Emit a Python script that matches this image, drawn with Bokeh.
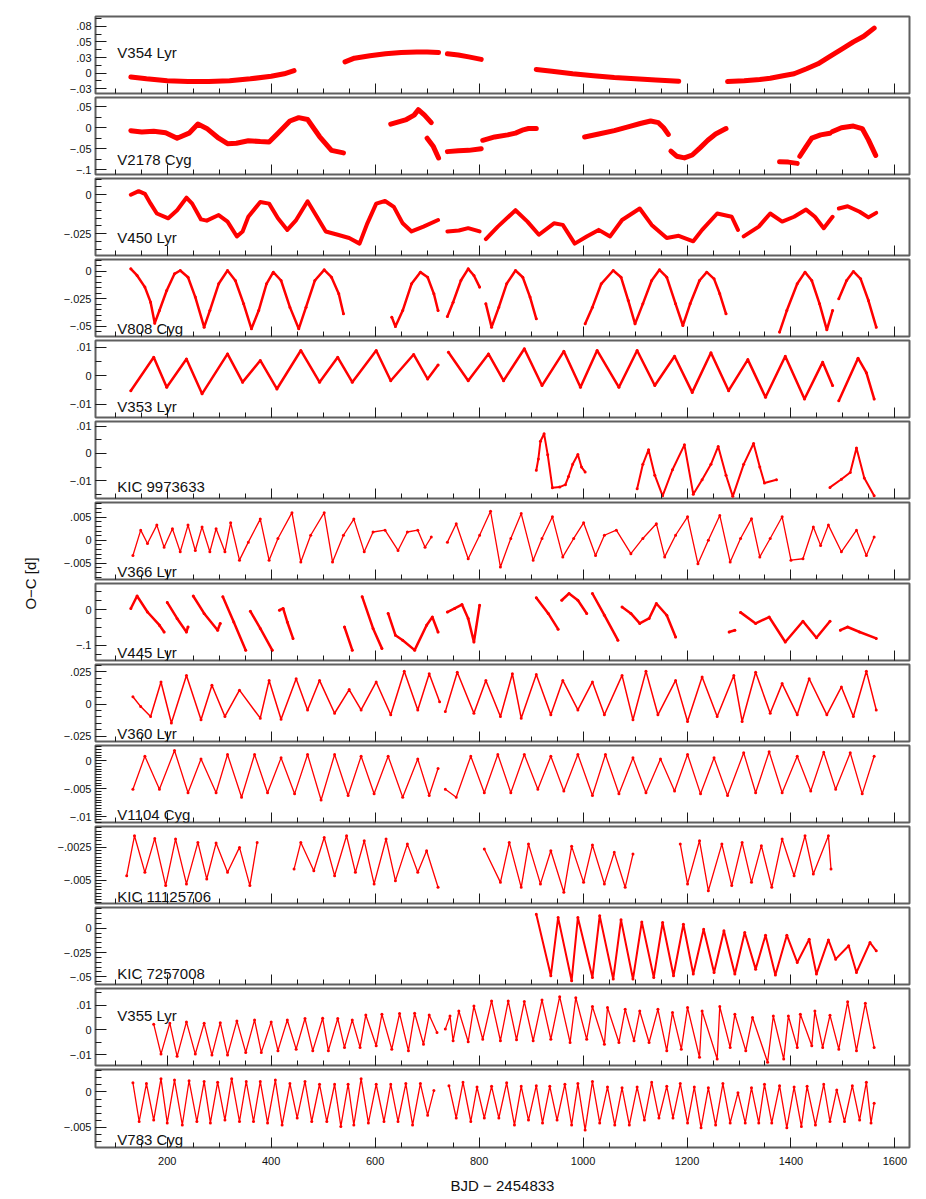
import math
from bokeh.plotting import figure
from bokeh.models import Range1d, FixedTicker, Label
from bokeh.layouts import row, column
from bokeh.embed import file_html
from bokeh.resources import INLINE

FONT = "Liberation Sans"
RED = "#ff0000"
MINUS = "\u2212"

# ---------------- axis ticks ----------------
x_major = [200, 400, 600, 800, 1000, 1200, 1400, 1600]
x_minor = list(range(100, 1650, 50))
x_title = "BJD " + MINUS + " 2454833"
y_title = "O" + MINUS + "C [d]"

# ---------------- data (BJD-2454833, O-C in days) ----------------
V354_t = [[130, 160, 200, 240, 280, 320, 360, 400, 425, 444],
          [542, 560, 590, 620, 650, 680, 700, 722],
          [739, 760, 780, 804],
          [910, 940, 980, 1020, 1060, 1100, 1140, 1184],
          [1278, 1310, 1340, 1360, 1385, 1406, 1430, 1452, 1475, 1497, 1520, 1540, 1560]]
V354_oc = [[-0.006, -0.009, -0.012, -0.0135, -0.0135, -0.012, -0.009, -0.005, -0.001, 0.004],
           [0.018, 0.024, 0.028, 0.031, 0.033, 0.034, 0.034, 0.033],
           [0.031, 0.029, 0.026, 0.022],
           [0.006, 0.003, -0.001, -0.004, -0.007, -0.009, -0.011, -0.013],
           [-0.0135, -0.012, -0.010, -0.008, -0.004, -0.001, 0.007, 0.015, 0.027, 0.038, 0.050, 0.059, 0.072]]

V2178_t = [[130, 151, 174, 197, 219, 242, 259, 276, 299, 316, 333, 356, 379, 396, 413, 436, 453, 470, 493, 516, 539],
           [630, 645, 660, 675, 683, 695, 708],
           [700, 712, 722],
           [739, 760, 780, 804],
           [807, 830, 855, 870, 885, 895, 910],
           [1003, 1030, 1060, 1090, 1110, 1130, 1145, 1155, 1164],
           [1169, 1180, 1195, 1210, 1225, 1240, 1255, 1275],
           [1378, 1395, 1412],
           [1417, 1429, 1440, 1457, 1475],
           [1480, 1497, 1520, 1537, 1549, 1563]]
V2178_oc = [[-0.007, -0.010, -0.0086, -0.012, -0.025, -0.013, 0.0086, -0.0016, -0.025, -0.038, -0.037, -0.031,
             -0.033, -0.034, -0.013, 0.016, 0.024, 0.0195, -0.021, -0.054, -0.060],
            [0.0086, 0.014, 0.0195, 0.030, 0.043, 0.030, 0.012],
            [-0.025, -0.045, -0.072],
            [-0.057, -0.055, -0.054, -0.050],
            [-0.030, -0.022, -0.017, -0.013, -0.005, -0.002, -0.002],
            [-0.022, -0.015, -0.007, 0.003, 0.010, 0.016, 0.012, 0.0, -0.016],
            [-0.056, -0.068, -0.072, -0.065, -0.048, -0.030, -0.015, -0.002],
            [-0.081, -0.082, -0.085],
            [-0.068, -0.045, -0.025, -0.017, -0.013],
            [-0.009, 0.0, 0.004, -0.002, -0.029, -0.066]]

V450_t = [[130, 145, 157, 168, 180, 202, 219, 237, 248, 265, 276, 299, 316, 334, 345, 356, 379, 396, 413, 431,
           448, 470, 488, 505, 528, 550, 570, 585, 602, 619, 636, 653, 670, 693, 721],
          [739, 761, 779, 801],
          [813, 836, 870, 893, 915, 944, 961, 984, 1007, 1030, 1052, 1075, 1109, 1132, 1161, 1184, 1212, 1229,
           1258, 1286, 1298],
          [1309, 1338, 1360, 1383, 1406, 1429, 1446, 1463, 1480],
          [1492, 1509, 1532, 1549, 1564]]
V450_oc = [[0.0, 0.0023, 0.0006, -0.0057, -0.012, -0.0151, -0.0099, -0.0019, -0.0057, -0.0158, -0.0166, -0.013,
            -0.0172, -0.0267, -0.0235, -0.0141, -0.0046, -0.0057, -0.0151, -0.0225, -0.0162, -0.0042, -0.0141,
            -0.0235, -0.0256, -0.0277, -0.0313, -0.0183, -0.0057, -0.004, -0.0078, -0.0183, -0.0235, -0.0204, -0.0162],
           [-0.0235, -0.0229, -0.0214, -0.0235],
           [-0.0284, -0.0204, -0.0099, -0.0172, -0.0256, -0.0183, -0.0193, -0.0313, -0.0267, -0.0225, -0.0267,
            -0.0162, -0.0088, -0.0193, -0.0277, -0.0263, -0.0298, -0.0225, -0.012, -0.0141, -0.0225],
           [-0.0267, -0.0204, -0.012, -0.0172, -0.0141, -0.0095, -0.0141, -0.0214, -0.0141],
           [-0.0088, -0.0074, -0.0109, -0.0145, -0.0116]]

V808_t = [[130, 142, 157, 168, 176, 185, 199, 214, 225, 240, 254, 271, 282, 299, 316, 331, 347, 362, 376, 391,
           404, 419, 436, 453, 467, 484, 502, 516, 530, 539],
          [632, 639, 653, 670, 687, 701, 713, 721],
          [739, 750, 765, 779, 790, 801],
          [813, 824, 838, 853, 870, 884, 898, 910],
          [1004, 1018, 1035, 1058, 1073, 1087, 1100, 1115, 1132, 1147, 1161, 1178, 1192, 1206, 1224, 1238, 1252,
           1263, 1275],
          [1378, 1392, 1412, 1427, 1440, 1455, 1469, 1480],
          [1492, 1507, 1520, 1534, 1549, 1564]]
V808_oc = [[0.0024, -0.0036, -0.0142, -0.0279, -0.047, -0.0355, -0.0173, -0.0021, 0.0009, -0.0052, -0.0233, -0.0506,
            -0.0355, -0.0112, 0.0009, -0.0082, -0.0294, -0.0521, -0.0355, -0.0112, -0.0006, -0.0082, -0.0324,
            -0.0521, -0.0324, -0.0082, 0.0015, -0.0052, -0.0203, -0.0385],
           [-0.0415, -0.050, -0.0355, -0.0112, -0.0006, -0.0052, -0.0203, -0.0355],
           [-0.0409, -0.0279, -0.0082, 0.0024, -0.0036, -0.0142],
           [-0.0294, -0.0506, -0.0324, -0.0112, 0.0009, -0.0052, -0.0233, -0.043],
           [-0.0476, -0.0324, -0.0112, 0.0009, -0.0052, -0.0264, -0.0476, -0.0294, -0.0082, 0.0015, -0.0052, -0.0294,
            -0.0491, -0.0294, -0.0082, -0.0006, -0.0067, -0.0203, -0.0385],
           [-0.0551, -0.0355, -0.0112, -0.0006, -0.0082, -0.0294, -0.053, -0.0355],
           [-0.0248, -0.0082, 0.0, -0.0067, -0.0264, -0.0506]]

V353_t = [[130, 174, 199, 237, 267, 316, 345, 379, 411, 457, 493, 528, 556, 602, 630, 674, 701, 721],
          [741, 779, 818, 847, 887, 921, 963, 995, 1027, 1069, 1104, 1138, 1176, 1210, 1246, 1280, 1317, 1351,
           1389, 1426, 1461, 1480],
          [1492, 1529, 1545, 1560]]
V353_oc = [[-0.0053, 0.0064, -0.0041, 0.0058, -0.0064, 0.0076, -0.0023, 0.0053, -0.0047, 0.0088, -0.0023, 0.0064,
            -0.0023, 0.0088, -0.0018, 0.0074, -0.0012, 0.0037],
           [0.0082, -0.0018, 0.0076, -0.0018, 0.0094, -0.0035, 0.0085, -0.0041, 0.0088, -0.0041, 0.0088, -0.0035,
            0.0068, -0.0059, 0.008, -0.0053, 0.0056, -0.0076, 0.0068, -0.0082, 0.0047, -0.0035],
           [-0.0088, 0.0061, 0.001, -0.0082]]

KIC9973633_t = [[910, 914, 918, 925, 932, 941, 955, 966, 972, 980, 990, 997, 1004],
                [1104, 1115, 1126, 1138, 1153, 1172, 1195, 1212, 1229, 1246, 1260, 1275, 1288, 1309, 1328, 1340,
                 1349, 1372],
                [1475, 1497, 1514, 1526, 1541, 1560]]
KIC9973633_oc = [[-0.0062, -0.002, 0.0045, 0.0073, -0.0005, -0.0126, -0.0124, -0.0115, -0.0085, -0.004, -0.0004,
                  -0.005, -0.0068],
                 [-0.013, -0.004, 0.0014, -0.008, -0.0156, -0.006, 0.0032, -0.015, -0.0097, -0.004, 0.0026, -0.008,
                  -0.0158, -0.004, 0.0037, -0.005, -0.0109, -0.0097],
                 [-0.0125, -0.0095, -0.007, 0.002, -0.009, -0.0156]]

V366_t = [[134, 149, 162, 180, 194, 210, 225, 240, 254, 267, 282, 294, 311, 322, 339, 356, 379, 396, 413, 440,
           457, 476, 502, 518, 539, 559, 579, 596, 619, 644, 662, 682, 696, 708],
          [739, 756, 779, 801, 822, 841, 861, 881, 904, 921, 941, 961, 982, 1001, 1024, 1041, 1064, 1092, 1115,
           1141, 1157, 1178, 1201, 1221, 1241, 1263, 1283, 1303, 1324, 1340, 1360, 1383, 1400, 1423, 1443, 1457,
           1472, 1497, 1526, 1545, 1560]]
V366_oc = [[-0.0033, 0.0022, -0.0007, 0.0033, -0.0015, 0.0025, -0.0025, 0.0033, -0.0022, 0.0029, -0.0025, 0.0025,
            -0.0025, 0.0038, -0.0043, -0.0004, 0.0046, -0.0043, 0.0004, 0.006, -0.0047, 0.0011, 0.006, -0.0047,
            0.0011, 0.0046, -0.0025, 0.0018, 0.0022, -0.0022, 0.0018, 0.0022, -0.0015, 0.0007],
           [-0.0004, 0.0036, -0.004, 0.0011, 0.0063, -0.0058, 0.0004, 0.0058, -0.0043, 0.0004, 0.0051, -0.0036,
            0.0004, 0.0038, -0.0033, 0.0011, 0.0022, -0.0029, 0.0004, 0.0036, -0.0036, 0.0011, 0.0051, -0.0051,
            0.0, 0.0054, -0.0047, 0.0004, 0.0047, -0.0036, 0.0004, 0.0051, -0.0043, -0.004, 0.0029, -0.0011,
            0.0033, -0.0025, 0.0022, -0.0033, 0.0007]]

V445_t = [[130, 142, 162, 185, 194], [200, 219, 237, 240], [250, 271, 297, 302], [307, 328, 351],
          [360, 379, 402], [416, 423, 431, 442], [541, 556], [575, 596, 613],
          [625, 639, 653, 676, 699, 710, 721], [739, 753, 767, 779, 790, 801],
          [910, 933, 952], [959, 973, 990, 1007], [1018, 1041, 1067],
          [1075, 1092, 1109, 1127, 1141, 1161, 1178], [1281, 1292],
          [1303, 1332, 1358, 1389, 1423, 1449, 1475], [1495, 1509, 1532, 1564]]
V445_oc = [[0.003, 0.038, -0.007, -0.044, -0.063], [0.020, -0.025, -0.063, -0.049], [0.038, -0.011, -0.058, -0.039],
           [0.036, -0.035, -0.114], [-0.005, -0.053, -0.114], [-0.002, 0.003, -0.035, -0.081], [-0.049, -0.114],
           [0.036, -0.053, -0.109], [-0.011, -0.072, -0.086, -0.114, -0.044, -0.021, -0.063],
           [-0.007, 0.003, 0.014, -0.025, -0.091, 0.012], [0.033, -0.011, -0.055], [0.026, 0.045, 0.026, -0.011],
           [0.045, -0.016, -0.086], [0.007, -0.011, -0.039, -0.025, 0.017, -0.016, -0.077], [-0.063, -0.058],
           [-0.008, -0.039, -0.021, -0.091, -0.033, -0.079, -0.033], [-0.058, -0.049, -0.063, -0.081]]

V360_t = [[134, 149, 168, 188, 208, 237, 265, 286, 311, 339, 379, 396, 419, 448, 470, 493, 522, 550, 573, 602,
           630, 656, 682, 704, 724],
          [735, 758, 790, 813, 841, 864, 881, 910, 938, 961, 990, 1018, 1041, 1075, 1096, 1121, 1144, 1178, 1201,
           1229, 1258, 1290, 1306, 1332, 1360, 1383, 1412, 1435, 1469, 1497, 1520, 1545, 1564]]
V360_oc = [[0.0056, -0.002, -0.0097, 0.0172, -0.0148, 0.0223, -0.0123, 0.0146, -0.0097, 0.0108, -0.011, 0.0184,
            -0.0118, 0.0197, -0.0046, 0.0184, -0.0072, 0.0113, -0.0046, 0.0172, -0.0084, 0.0256, -0.0046, 0.0236,
            0.0018],
           [-0.0059, 0.0248, -0.0072, 0.0184, -0.0097, 0.0236, -0.011, 0.023, -0.0084, 0.0184, -0.0046, 0.0172,
            -0.0084, 0.0223, -0.0123, 0.0256, -0.0084, 0.0184, -0.0136, 0.0210, -0.0097, 0.0223, -0.0136, 0.0248,
            -0.0072, 0.0159, -0.0084, 0.0197, -0.0084, 0.0133, -0.0097, 0.0256, -0.0046]]

V1104_t = [[134, 157, 185, 214, 240, 265, 294, 316, 343, 368, 393, 419, 445, 470, 496, 522, 548, 573, 598, 625,
            653, 682, 704, 721],
           [735, 756, 784, 810, 836, 861, 887, 913, 938, 963, 990, 1018, 1043, 1069, 1096, 1121, 1149, 1176, 1201,
            1226, 1252, 1278, 1309, 1332, 1358, 1383, 1412, 1438, 1463, 1486, 1514, 1537, 1560]]
V1104_oc = [[-0.0051, 0.0008, -0.0051, 0.0018, -0.0057, 0.0003, -0.0057, 0.0011, -0.0065, 0.0011, -0.0057, 0.0005,
             -0.0059, 0.0011, -0.007, 0.0011, -0.0062, 0.0008, -0.0059, 0.0008, -0.0065, 0.0003, -0.0062, -0.0014],
            [-0.0051, -0.0065, 0.0008, -0.0057, 0.0011, -0.0057, 0.0011, -0.0051, 0.0008, -0.0054, 0.0011, -0.0062,
             0.0011, -0.0059, 0.0005, -0.0057, 0.0003, -0.0054, 0.0011, -0.0059, 0.0005, -0.0062, 0.0014, -0.0057,
             0.0016, -0.0057, 0.0008, -0.0054, 0.0015, -0.0051, 0.0014, -0.0059, 0.0008]]

KIC11125706_t = [[122, 137, 157, 176, 197, 216, 237, 259, 276, 294, 316, 339, 359, 373],
                 [444, 457, 482, 502, 522, 545, 562, 579, 598, 621, 639, 662, 682, 699, 721],
                 [810, 841, 858, 881, 895, 918, 938, 963, 978, 1001, 1018, 1041, 1060, 1081, 1096],
                 [1187, 1201, 1224, 1241, 1267, 1286, 1306, 1324, 1343, 1363, 1383, 1406, 1427, 1443, 1472, 1477]]
KIC11125706_oc = [[-0.00467, -0.00161, -0.00441, -0.00181, -0.00543, -0.00186, -0.0053, -0.00212, -0.00492,
                   -0.00217, -0.00441, -0.0025, -0.00543, -0.00212],
                  [-0.00416, -0.00212, -0.00429, -0.00174, -0.00467, -0.00161, -0.00441, -0.00199, -0.0053,
                   -0.00186, -0.00505, -0.00225, -0.00441, -0.00276, -0.00556],
                  [-0.00263, -0.00518, -0.00212, -0.00556, -0.00225, -0.0053, -0.00276, -0.00594, -0.00242,
                   -0.00518, -0.00232, -0.0053, -0.00288, -0.00556, -0.00301],
                  [-0.00225, -0.0053, -0.00199, -0.00582, -0.00225, -0.00543, -0.00212, -0.00518, -0.00237,
                   -0.00556, -0.00186, -0.00467, -0.00161, -0.00454, -0.00161, -0.00416]]

KIC7257008_t = [[910, 938, 952, 978, 990, 1018, 1032, 1058, 1073, 1096, 1113, 1136, 1153, 1174, 1193, 1212, 1232,
                 1252, 1271, 1292, 1311, 1332, 1351, 1370, 1392, 1412, 1435, 1449, 1472, 1486, 1511, 1526, 1552,
                 1564]]
KIC7257008_oc = [[0.0144, -0.0489, 0.0109, -0.054, 0.0109, -0.0506, 0.0127, -0.0523, 0.0086, -0.0523, 0.0065,
                  -0.0506, 0.0058, -0.0489, 0.0041, -0.0472, -0.001, -0.0455, -0.0027, -0.0472, -0.0044, -0.0421,
                  -0.0072, -0.0482, -0.0072, -0.0352, -0.0113, -0.0472, -0.012, -0.0318, -0.0181, -0.0455,
                  -0.0147, -0.0233]]

V355_t = [[174, 188, 205, 219, 237, 254, 271, 286, 302, 316, 334, 351, 368, 381, 400, 413, 431, 448, 465, 480,
           499, 510, 528, 541, 556, 571, 582, 602, 613, 632, 647, 664, 676, 693, 704, 719],
          [735, 744, 750, 761, 779, 790, 807, 824, 841, 856, 872, 887, 904, 921, 938, 955, 975, 986, 1007, 1018,
           1041, 1047, 1069, 1081, 1098, 1109, 1127, 1144, 1161, 1172, 1189, 1201, 1224, 1229, 1258, 1263, 1283,
           1292, 1313, 1326, 1355, 1366, 1386, 1395, 1412, 1418, 1440, 1446, 1461, 1475, 1492, 1509, 1526, 1543,
           1560]]
V355_oc = [[0.0023, -0.0098, 0.0027, -0.0107, 0.0032, -0.0098, 0.0027, -0.0102, 0.0029, -0.0102, 0.0036, -0.0091,
            0.004, -0.0091, 0.0032, -0.0084, 0.004, -0.0078, 0.0046, -0.0084, 0.0047, -0.0084, 0.0046, -0.0071,
            0.004, -0.0071, 0.006, -0.0064, 0.0063, -0.0078, 0.0066, -0.0084, 0.0067, -0.0058, 0.006, -0.0011],
           [0.0003, 0.0056, -0.0044, 0.0076, -0.0048, 0.0096, -0.0038, 0.0117, -0.0044, 0.0117, -0.004, 0.0114,
            -0.0044, 0.0121, -0.0038, 0.0134, -0.0051, 0.013, -0.0038, 0.0094, -0.0058, 0.009, -0.0051, 0.0083,
            -0.0044, 0.0076, -0.0051, 0.0083, -0.0084, 0.007, -0.0078, 0.009, -0.0111, 0.0076, -0.0118, 0.0094,
            -0.0071, 0.0063, -0.0084, 0.005, -0.0131, 0.0056, -0.0118, 0.0056, -0.0071, 0.0063, -0.0064, 0.0076,
            -0.0071, 0.0059, -0.0078, 0.0113, -0.0084, 0.0107, -0.0071]]

V783_t = [[134, 146, 160, 174, 188, 200, 214, 229, 242, 257, 271, 283, 297, 311, 324, 339, 352, 366, 379, 393,
           408, 421, 436, 450, 465, 478, 493, 507, 522, 534, 548, 559, 573, 587, 602, 617, 630, 644, 659, 672,
           687, 701, 713],
          [742, 756, 769, 784, 796, 810, 824, 838, 853, 868, 881, 895, 910, 922, 936, 950, 965, 978, 990, 1004,
           1018, 1032, 1047, 1061, 1075, 1089, 1104, 1118, 1132, 1146, 1161, 1173, 1187, 1201, 1214, 1227, 1241,
           1255, 1269, 1283, 1298, 1312, 1324, 1338, 1349, 1363, 1378, 1392, 1406, 1420, 1431, 1447, 1463, 1475,
           1488, 1503, 1518, 1532, 1545, 1554, 1560]]
V783_oc = [[0.0013, -0.0042, 0.0012, -0.004, 0.0019, -0.0044, 0.0017, -0.0047, 0.0016, -0.0042, 0.0015, -0.0044,
            0.0014, -0.004, 0.0019, -0.0042, 0.0015, -0.0042, 0.0015, -0.0044, 0.0017, -0.0047, 0.0012, -0.0037,
            0.0015, -0.0042, 0.0011, -0.0042, 0.0011, -0.0049, 0.0011, -0.0047, 0.0019, -0.0044, 0.0011, -0.0042,
            0.0011, -0.0042, 0.0012, -0.0047, 0.0012, -0.0033, 0.0002],
           [0.0009, -0.0037, 0.0014, -0.0042, 0.0007, -0.0037, 0.0008, -0.0037, 0.0013, -0.0047, 0.0008, -0.004,
            0.0009, -0.0044, 0.0008, -0.004, 0.0011, -0.0047, 0.0012, -0.0054, 0.0015, -0.0044, 0.0007, -0.0047,
            0.0006, -0.0047, 0.0007, -0.004, 0.0014, -0.0037, 0.0008, -0.0037, 0.0012, -0.0044, 0.0007, -0.0051,
            0.0006, -0.0047, 0.0012, -0.0044, -0.0001, -0.0044, 0.0006, -0.0044, 0.0011, -0.0044, 0.0009, -0.0051,
            0.0007, -0.0049, 0.0008, -0.0047, 0.0011, -0.0042, 0.0003, -0.0042, 0.0009, -0.004, 0.0014, -0.0044,
            -0.0016]]

# ---------------- panel configuration ----------------
M = MINUS
panels = [
    dict(name="V354 Lyr", t=V354_t, oc=V354_oc, yr=(-0.0325, 0.0906),
         ticks=[-0.025, 0, 0.025, 0.05, 0.075], labels=[M + ".03", "0", ".03", ".05", ".08"], minor=0.0125,
         lab=("top", 36), lw=5, ds=0),
    dict(name="V2178 Cyg", t=V2178_t, oc=V2178_oc, yr=(-0.1115, 0.072),
         ticks=[-0.1, -0.05, 0, 0.05], labels=[M + ".1", M + ".05", "0", ".05"], minor=0.025,
         lab=("bottom", 15), lw=5, ds=0),
    dict(name="V450 Lyr", t=V450_t, oc=V450_oc, yr=(-0.0389, 0.0104),
         ticks=[-0.025, 0], labels=[M + ".025", "0"], minor=0.005, lab=("bottom", 18), lw=4, ds=0),
    dict(name="V808 Cyg", t=V808_t, oc=V808_oc, yr=(-0.0591, 0.0109),
         ticks=[-0.05, -0.025, 0], labels=[M + ".05", M + ".025", "0"], minor=0.005, lab=("bottom", 8), lw=2.5, ds=3),
    dict(name="V353 Lyr", t=V353_t, oc=V353_oc, yr=(-0.0147, 0.0123),
         ticks=[-0.01, 0, 0.01], labels=[M + ".01", "0", ".01"], minor=0.005, lab=("bottom", 11), lw=2.5, ds=3),
    dict(name="KIC 9973633", t=KIC9973633_t, oc=KIC9973633_oc, yr=(-0.0166, 0.0118),
         ticks=[-0.01, 0, 0.01], labels=[M + ".01", "0", ".01"], minor=0.005, lab=("bottom", 12), lw=2, ds=3),
    dict(name="V366 Lyr", t=V366_t, oc=V366_oc, yr=(-0.0085, 0.0082),
         ticks=[-0.005, 0, 0.005], labels=[M + ".005", "0", ".005"], minor=0.001, lab=("bottom", 8), lw=1.3, ds=3),
    dict(name="V445 Lyr", t=V445_t, oc=V445_oc, yr=(-0.143, 0.073),
         ticks=[-0.1, 0], labels=[M + ".1", "0"], minor=0.025, lab=("bottom", 8), lw=2.5, ds=3),
    dict(name="V360 Lyr", t=V360_t, oc=V360_oc, yr=(-0.0292, 0.0308),
         ticks=[-0.025, 0, 0.025], labels=[M + ".025", "0", ".025"], minor=0.005, lab=("bottom", 8), lw=1.5, ds=3),
    dict(name="V1104 Cyg", t=V1104_t, oc=V1104_oc, yr=(-0.0110, 0.0027),
         ticks=[-0.01, -0.005, 0], labels=[M + ".01", M + ".005", "0"], minor=0.0005, lab=("bottom", 8), lw=1.3, ds=3),
    dict(name="KIC 11125706", t=KIC11125706_t, oc=KIC11125706_oc, yr=(-0.0068, -0.0009),
         ticks=[-0.005, -0.0025], labels=[M + ".005", M + ".0025"], minor=0.00025, lab=("bottom", 7), lw=1.3, ds=3),
    dict(name="KIC 7257008", t=KIC7257008_t, oc=KIC7257008_oc, yr=(-0.0579, 0.0213),
         ticks=[-0.05, -0.025, 0], labels=[M + ".05", M + ".025", "0"], minor=0.005, lab=("bottom", 11), lw=2, ds=3),
    dict(name="V355 Lyr", t=V355_t, oc=V355_oc, yr=(-0.0144, 0.0167),
         ticks=[-0.01, 0, 0.01], labels=[M + ".01", "0", ".01"], minor=0.005, lab=("top", 27), lw=1.3, ds=3),
    dict(name="V783 Cyg", t=V783_t, oc=V783_oc, yr=(-0.0079, 0.0032),
         ticks=[-0.005, 0], labels=[M + ".005", "0"], minor=0.001, lab=("bottom", 8), lw=1.3, ds=3),
]

X0, X1 = 62, 1628
LEFT_W = 44
BORDER_L = 51
BORDER_R = 9
FIG_W = BORDER_L + 814 + BORDER_R
TOTAL_H = 1197
TICK_COLOR = "#1a1a1a"
FRAME_COLOR = "#5f5f5f"
TEXT_COLOR = "#111111"


def minor_list(lo, hi, step):
    k0 = math.ceil(lo / step - 1e-9)
    k1 = math.floor(hi / step + 1e-9)
    return [round(k * step, 8) for k in range(k0, k1 + 1)]


figs = []
n = len(panels)
for i, pn in enumerate(panels):
    first = i == 0
    last = i == n - 1
    top_b = 16 if first else 2
    bot_b = 50 if last else 2
    fh = 78 if last else 77
    lo, hi = pn["yr"]
    p = figure(width=FIG_W, height=top_b + fh + bot_b,
               x_range=Range1d(X0, X1), y_range=Range1d(lo, hi),
               toolbar_location=None, output_backend="svg",
               min_border_left=BORDER_L, min_border_right=BORDER_R,
               min_border_top=top_b, min_border_bottom=bot_b)
    p.grid.visible = False
    p.outline_line_color = FRAME_COLOR
    p.outline_line_width = 2
    p.background_fill_color = "white"
    p.border_fill_color = "white"

    # x axis (ticks inside; labels only on the bottom panel)
    xa = p.xaxis[0]
    xa.ticker = FixedTicker(ticks=x_major, minor_ticks=x_minor)
    xa.axis_line_color = None
    xa.major_tick_in = 10
    xa.major_tick_out = 0
    xa.minor_tick_in = 5
    xa.minor_tick_out = 0
    xa.major_tick_line_color = TICK_COLOR
    xa.minor_tick_line_color = TICK_COLOR
    if last:
        xa.major_label_text_font = FONT
        xa.major_label_text_font_size = "11px"
        xa.major_label_text_color = TEXT_COLOR
        xa.major_label_standoff = 9
        xa.axis_label = x_title
        xa.axis_label_text_font = FONT
        xa.axis_label_text_font_size = "15px"
        xa.axis_label_text_font_style = "normal"
        xa.axis_label_text_color = TEXT_COLOR
        xa.axis_label_standoff = 9
    else:
        xa.major_label_text_color = None
        xa.major_label_text_font_size = "0px"
        xa.major_label_standoff = 0

    # y axis
    ya = p.yaxis[0]
    ya.ticker = FixedTicker(ticks=pn["ticks"], minor_ticks=minor_list(lo, hi, pn["minor"]))
    ya.major_label_overrides = {tk: lb for tk, lb in zip(pn["ticks"], pn["labels"])}
    ya.axis_line_color = None
    ya.major_tick_in = 11
    ya.major_tick_out = 0
    ya.minor_tick_in = 6
    ya.minor_tick_out = 0
    ya.major_tick_line_color = TICK_COLOR
    ya.minor_tick_line_color = TICK_COLOR
    ya.major_label_text_font = FONT
    ya.major_label_text_font_size = "11px"
    ya.major_label_text_color = TEXT_COLOR
    ya.major_label_standoff = 4

    # data
    if pn["lw"] > 0:
        p.multi_line(xs=pn["t"], ys=pn["oc"], line_color=RED, line_width=pn["lw"],
                     line_join="round", line_cap="round")
    if pn["ds"] > 0:
        xs = [v for seg in pn["t"] for v in seg]
        ys = [v for seg in pn["oc"] for v in seg]
        p.scatter(xs, ys, size=pn["ds"], color=RED, line_width=0)

    # star name
    where, off = pn["lab"]
    if where == "top":
        ylab = hi - off / fh * (hi - lo)
    else:
        ylab = lo + off / fh * (hi - lo)
    p.add_layout(Label(x=104, y=ylab, text=pn["name"], text_font=FONT, text_font_size="15px",
                       text_color=TEXT_COLOR, text_align="left", text_baseline="alphabetic"))
    figs.append(p)

# left strip carrying the common y-axis title
lf = figure(width=LEFT_W, height=TOTAL_H, x_range=Range1d(0, 1), y_range=Range1d(0, 1),
            x_axis_type=None, y_axis_type=None, toolbar_location=None, output_backend="svg",
            min_border=0, outline_line_color=None)
lf.grid.visible = False
lf.add_layout(Label(x=30 / LEFT_W, y=1 - 583 / TOTAL_H, text=y_title, angle=math.pi / 2,
                    text_font=FONT, text_font_size="15px", text_color=TEXT_COLOR,
                    text_align="center", text_baseline="middle"))

layout = row(lf, column(*figs, spacing=0), spacing=0)

with open("out.html", "w") as f:
    f.write(file_html(layout, INLINE, title="O-C diagrams"))
